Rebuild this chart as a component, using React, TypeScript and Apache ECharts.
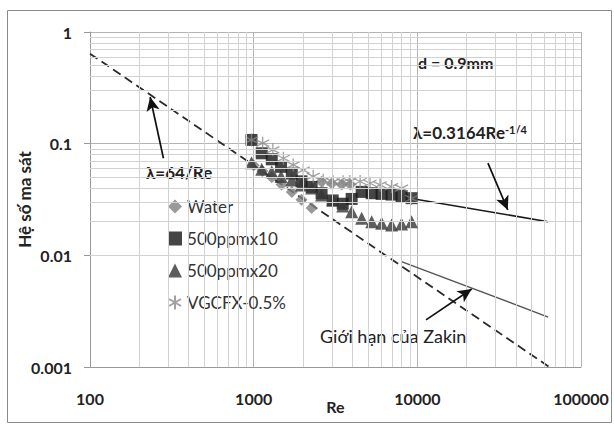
import React, { useEffect, useRef } from "react";
import * as echarts from "echarts";

// ---- Data ----
const waterRe = [1000, 1130, 1290, 1480, 1710, 1960, 2260, 2600, 3000, 3450, 3900];
const waterF = [0.064, 0.057, 0.05, 0.043, 0.037, 0.0315, 0.0265, 0.0455, 0.044, 0.043, 0.043];

const p10Re = [970, 1120, 1290, 1470, 1710, 1960, 2260, 2600, 3040, 3500, 3970, 4570, 5260, 6050, 6960, 8010, 9220];
const p10F = [0.108, 0.082, 0.0725, 0.062, 0.054, 0.046, 0.041, 0.036, 0.031, 0.029, 0.032, 0.037, 0.036, 0.0355, 0.035, 0.034, 0.0325];

const p20Re = [970, 1120, 1290, 1470, 1710, 1960, 2260, 2600, 3040, 3500, 3970, 4570, 5260, 6050, 6960, 8010, 9220];
const p20F = [0.0676, 0.059, 0.056, 0.0507, 0.0473, 0.0427, 0.04, 0.0347, 0.0313, 0.0277, 0.0246, 0.0215, 0.02, 0.0194, 0.0187, 0.0191, 0.02];

const vgRe = [970, 1135, 1310, 1520, 1745, 2010, 2310, 2660, 3060, 3520, 3870, 4470, 5140, 5920, 6960, 8010, 9220];
const vgF = [0.108, 0.101, 0.088, 0.074, 0.0645, 0.058, 0.051, 0.047, 0.0455, 0.0455, 0.0458, 0.0458, 0.0442, 0.0427, 0.0413, 0.04, 0.0323];

// reference lines (end points, straight on log-log)
const laminarRe = [100, 64000];
const laminarF = [0.64, 0.001];
const blasiusRe = [10000, 63000];
const blasiusF = [0.0316, 0.02];
const zakinRe = [8000, 63000];
const zakinF = [0.0088, 0.0028];

// annotation arrows [tail, tip] in data units
const arrowLaminar = [[281, 0.074], [233, 0.262]];
const arrowBlasius = [[27000, 0.067], [35700, 0.0255]];
const arrowZakin = [[11300, 0.00264], [21500, 0.005]];

// axis structure
const xTicks = ["100", "1000", "10000", "100000"];
const yTicks = ["0.001", "0.01", "0.1", "1"];
const minorSteps = [2, 3, 4, 5, 6, 7, 8, 9];
const xDecades = [100, 1000, 10000];
const yDecades = [0.001, 0.01, 0.1];

const seriesNames = ["Water", "500ppmx10", "500ppmx20", "VGCFX-0.5%"];

const FONT = "Lato, 'Open Sans', sans-serif";

function pairs(xs: number[], ys: number[]) {
  return xs.map((x, i) => [x, ys[i]]);
}

export default function App() {
  const ref = useRef<HTMLDivElement>(null);
  useEffect(() => {
    if (!ref.current) return;
    const chart = echarts.init(ref.current, undefined, { renderer: "svg" });

    const minorX: any[] = [];
    xDecades.forEach((d) => minorSteps.forEach((s) => minorX.push({ xAxis: d * s })));
    const minorY: any[] = [];
    yDecades.forEach((d) => minorSteps.forEach((s) => minorY.push({ yAxis: +(d * s).toPrecision(2) })));

    const arrowLine = (a: number[][]) => ({
      silent: true,
      symbol: ["none", "arrow"],
      symbolSize: [10, 14],
      label: { show: false },
      lineStyle: { color: "#111", width: 1.7, type: "solid" },
      data: [[{ coord: a[0] }, { coord: a[1] }]],
    });

    const option: any = {
      animation: false,
      backgroundColor: "#fff",
      grid: { left: 90, top: 32, right: 33, bottom: 58, containLabel: false, outerBoundsMode: "none" },
      xAxis: {
        type: "log",
        logBase: 10,
        min: 100,
        max: 100000,
        axisLine: { show: true, onZero: false, lineStyle: { color: "#999", width: 1 } },
        axisTick: { show: false },
        axisLabel: {
          margin: 23,
          fontFamily: FONT,
          fontWeight: "bold",
          fontSize: 16,
          color: "#222",
          formatter: (v: number) => xTicks.find((t) => Math.abs(+t - v) / v < 1e-6) || "",
        },
        splitLine: { show: true, lineStyle: { color: "#b4b4b4", width: 1 } },
        name: "Re",
        nameLocation: "middle",
        nameGap: 31,
        nameMoveOverlap: false,
        nameTextStyle: { fontFamily: FONT, fontWeight: "bold", fontSize: 16, color: "#222" },
      },
      yAxis: {
        type: "log",
        logBase: 10,
        min: 0.001,
        max: 1,
        axisLine: { show: true, onZero: false, lineStyle: { color: "#999", width: 1 } },
        axisTick: { show: true, length: 6, lineStyle: { color: "#999" } },
        axisLabel: {
          margin: 18,
          fontFamily: FONT,
          fontWeight: "bold",
          fontSize: 16,
          color: "#222",
          formatter: (v: number) => yTicks.find((t) => Math.abs(+t - v) / v < 1e-6) || "",
        },
        splitLine: { show: true, lineStyle: { color: "#b4b4b4", width: 1 } },
        name: "Hệ số ma sát",
        nameLocation: "middle",
        nameRotate: 90,
        nameGap: 57,
        nameMoveOverlap: false,
        nameTextStyle: { fontFamily: FONT, fontWeight: "bold", fontSize: 17, color: "#222" },
      },
      legend: {
        orient: "vertical",
        left: 163,
        top: 193,
        itemWidth: 14,
        itemHeight: 14,
        itemGap: 15,
        data: seriesNames,
        textStyle: { fontFamily: FONT, fontSize: 17, color: "#333" },
      },
      graphic: [
        {
          type: "rect",
          shape: { x: 7.5, y: 10.5, width: 604, height: 412 },
          style: { fill: "none", stroke: "#8a8a8a", lineWidth: 1 },
          silent: true,
          z: -10,
        },
        {
          type: "text",
          x: 418,
          y: 62,
          style: { text: "d = 0.9mm", font: `bold 16px ${FONT}`, fill: "#222", textVerticalAlign: "middle" },
        },
        {
          type: "text",
          x: 146,
          y: 172,
          style: { text: "λ=64/Re", font: `bold 17px ${FONT}`, fill: "#222", textVerticalAlign: "middle" },
        },
        {
          type: "text",
          x: 413,
          y: 124,
          style: {
            text: "{a|λ=0.3164Re}{s|-1/4}",
            rich: {
              a: { fontFamily: FONT, fontWeight: "bold", fontSize: 17, fill: "#222", color: "#222", verticalAlign: "bottom" },
              s: { fontFamily: FONT, fontWeight: "bold", fontSize: 11, fill: "#222", color: "#222", verticalAlign: "top" },
            },
          },
        },
        {
          type: "text",
          x: 320,
          y: 336,
          style: { text: "Giới hạn của Zakin", font: `18px ${FONT}`, fill: "#222", textVerticalAlign: "middle" },
        },
      ],
      series: [
        {
          type: "scatter",
          name: "_grid",
          data: [],
          z: 0,
          silent: true,
          markLine: {
            silent: true,
            symbol: ["none", "none"],
            label: { show: false },
            lineStyle: { color: "#d2d2d2", width: 1, type: "solid" },
            data: [...minorX, ...minorY],
          },
        },
        {
          type: "line",
          name: "_laminar",
          data: pairs(laminarRe, laminarF),
          symbol: "none",
          lineStyle: { color: "#2a2a2a", width: 1.8, type: [9, 5] },
          z: 2,
          markLine: arrowLine(arrowLaminar),
        },
        {
          type: "line",
          name: "_blasius",
          data: pairs(blasiusRe, blasiusF),
          symbol: "none",
          lineStyle: { color: "#1a1a1a", width: 1.6 },
          z: 2,
          markLine: arrowLine(arrowBlasius),
        },
        {
          type: "line",
          name: "_zakin",
          data: pairs(zakinRe, zakinF),
          symbol: "none",
          lineStyle: { color: "#555", width: 1.4 },
          z: 2,
          markLine: arrowLine(arrowZakin),
        },
        {
          type: "scatter",
          name: seriesNames[0],
          data: pairs(waterRe, waterF),
          symbol: "diamond",
          symbolSize: 12,
          itemStyle: { color: "#808080" },
          z: 3,
        },
        {
          type: "scatter",
          name: seriesNames[1],
          data: pairs(p10Re, p10F),
          symbol: "rect",
          symbolSize: 12,
          itemStyle: { color: "#161616" },
          z: 3,
        },
        {
          type: "scatter",
          name: seriesNames[2],
          data: pairs(p20Re, p20F),
          symbol: "triangle",
          symbolSize: 13,
          itemStyle: { color: "#363636" },
          z: 3,
        },
        {
          type: "scatter",
          name: seriesNames[3],
          data: pairs(vgRe, vgF),
          symbol: "path://M5,0L5,10M0.7,2.5L9.3,7.5M0.7,7.5L9.3,2.5",
          symbolSize: 13,
          itemStyle: { color: "rgba(0,0,0,0)", borderColor: "#888", borderWidth: 1.3 },
          z: 3,
        },
      ],
    };
    chart.setOption(option);
    return () => chart.dispose();
  }, []);
  return (
    <div
      ref={ref}
      style={{ position: "fixed", left: 0, top: 0, width: 614, height: 425, background: "#fff" }}
    />
  );
}
